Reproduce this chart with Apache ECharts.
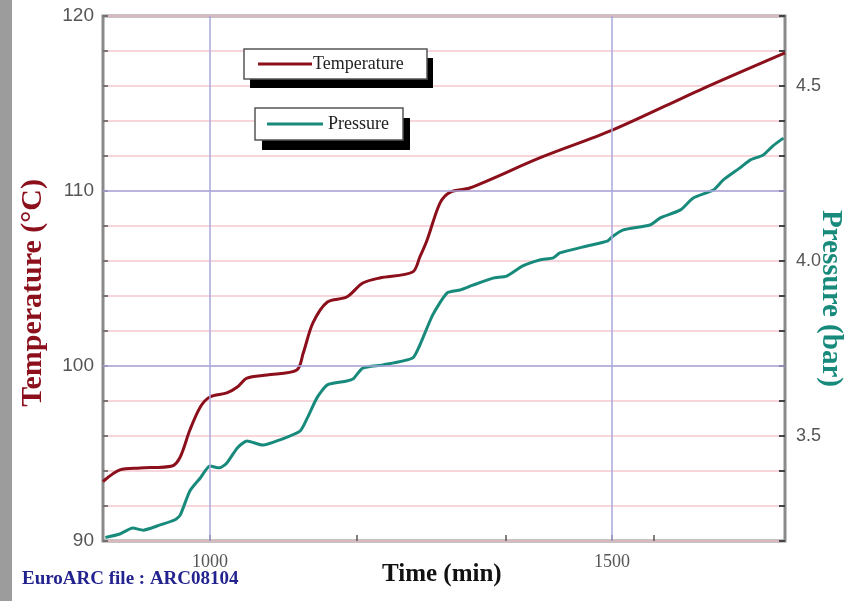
<!DOCTYPE html>
<html>
<head>
<meta charset="utf-8">
<script src="https://cdn.jsdelivr.net/npm/echarts@6/dist/echarts.min.js"></script>
<style>
  html, body { margin: 0; padding: 0; background: #fff; }
  #chart { width: 850px; height: 601px; }
</style>
</head>
<body>
<div id="chart"></div>
<script>
// time (min) / temperature (°C)
const tempTime = [867, 888, 913, 953, 963, 975, 988, 1000, 1021, 1034, 1046, 1071, 1108, 1116, 1128, 1146, 1170, 1190, 1211, 1252, 1261, 1270, 1286, 1299, 1323, 1410, 1501, 1609, 1715];
const tempVals = [93.4, 94.06, 94.17, 94.29, 94.8, 96.34, 97.66, 98.23, 98.46, 98.8, 99.31, 99.49, 99.77, 100.74, 102.46, 103.66, 103.94, 104.74, 105.03, 105.37, 106.23, 107.2, 109.31, 109.94, 110.17, 111.89, 113.49, 115.77, 117.89];

// time (min) / pressure (bar)
const presTime = [870, 888, 904, 917, 938, 956, 963, 975, 988, 1000, 1012, 1021, 1034, 1046, 1066, 1087, 1112, 1121, 1133, 1146, 1170, 1178, 1190, 1215, 1252, 1261, 1277, 1295, 1311, 1327, 1352, 1369, 1389, 1410, 1427, 1435, 1469, 1494, 1501, 1514, 1547, 1560, 1585, 1601, 1626, 1638, 1659, 1672, 1688, 1700, 1713];
const presVals = [3.21, 3.22, 3.237, 3.231, 3.246, 3.26, 3.274, 3.343, 3.38, 3.414, 3.409, 3.423, 3.466, 3.486, 3.474, 3.489, 3.514, 3.551, 3.609, 3.646, 3.657, 3.663, 3.694, 3.703, 3.723, 3.76, 3.846, 3.909, 3.917, 3.931, 3.951, 3.957, 3.986, 4.003, 4.009, 4.023, 4.043, 4.057, 4.071, 4.089, 4.103, 4.123, 4.146, 4.18, 4.203, 4.231, 4.266, 4.289, 4.303, 4.329, 4.351];

const xLabelValues = [1000, 1500];
const xTickValues = [1000, 1183, 1368, 1500, 1552];
const xMajorLines = [1000, 1500];
const yMajorLines = [100, 110];

const tempColor = '#8c0f1c';
const presColor = '#178a7c';

var chart = echarts.init(document.getElementById('chart'));

const pair = (xs, ys) => xs.map((x, i) => [x, ys[i]]);

// box with hard black drop shadow behind a legend
const legendBox = (x, y, w, h, dx, dy) => [
  { type: 'rect', z: 5, shape: { x: x + dx, y: y + dy, width: w, height: h }, style: { fill: '#000' } },
  { type: 'rect', z: 6, shape: { x: x, y: y, width: w, height: h }, style: { fill: '#fff', stroke: '#555', lineWidth: 1.5 } },
];

const option = {
  backgroundColor: '#fff',
  animation: false,
  grid: {
    left: 103,
    right: 65,
    top: 16,
    bottom: 60,
    show: true,
    borderColor: '#8a8a8a',
    borderWidth: 3,
  },
  legend: [
    {
      data: ['Temperature'],
      left: 258,
      top: 55,
      z: 10,
      padding: 0,
      itemWidth: 54,
      itemHeight: 3,
      icon: 'rect',
      textStyle: { fontFamily: 'Liberation Serif', fontSize: 18, color: '#222', padding: [0, 0, 0, -4] },
    },
    {
      data: ['Pressure'],
      left: 267,
      top: 115,
      z: 10,
      padding: 0,
      itemWidth: 56,
      itemHeight: 3,
      icon: 'rect',
      textStyle: { fontFamily: 'Liberation Serif', fontSize: 18, color: '#222' },
    },
  ],
  xAxis: {
    type: 'value',
    min: 867,
    max: 1715,
    axisLine: { show: false },
    axisTick: {
      show: true,
      inside: true,
      length: 6,
      customValues: xTickValues,
      lineStyle: { color: '#555', width: 1.5 },
    },
    axisLabel: {
      customValues: xLabelValues,
      margin: 12,
      fontFamily: 'Liberation Serif',
      fontSize: 18,
      color: '#555',
      formatter: (v) => String(v),
    },
    splitLine: { show: false },
  },
  yAxis: [
    {
      type: 'value',
      min: 90,
      max: 120,
      interval: 2,
      axisLine: { show: false },
      axisTick: { show: true, inside: true, length: 5, lineStyle: { color: '#555', width: 1.5 } },
      axisLabel: {
        margin: 9,
        fontFamily: 'Liberation Sans',
        fontSize: 19,
        color: '#555',
        formatter: (v) => (v % 10 === 0 ? String(v) : ''),
      },
      splitLine: { show: true, lineStyle: { color: '#f3c9ce', width: 1.5 } },
    },
    {
      type: 'value',
      min: 3.2,
      max: 4.7,
      interval: 0.1,
      position: 'right',
      axisLine: { show: false },
      axisTick: { show: true, inside: true, length: 6, lineStyle: { color: '#444', width: 2 } },
      axisLabel: {
        margin: 11,
        fontFamily: 'Liberation Sans',
        fontSize: 18,
        color: '#555',
        formatter: (v) => {
          const r = Math.round(v * 10);
          return r % 5 === 0 ? (r / 10).toFixed(1) : '';
        },
      },
      splitLine: { show: false },
    },
  ],
  graphic: [
    { type: 'rect', left: 0, top: 0, shape: { width: 12, height: 601 }, style: { fill: '#9c9c9c' } },
    ...legendBox(244, 49, 183, 30, 6, 9),
    ...legendBox(255, 108, 148, 32, 7, 10),
    {
      type: 'text',
      left: 18,
      top: 179,
      rotation: Math.PI / 2,
      style: { text: 'Temperature (°C)', fill: tempColor, font: 'bold 30px "Liberation Serif"' },
    },
    {
      type: 'text',
      left: 816,
      top: 210,
      rotation: -Math.PI / 2,
      style: { text: 'Pressure (bar)', fill: presColor, font: 'bold 29px "Liberation Serif"' },
    },
    {
      type: 'text',
      left: 382,
      top: 562,
      style: { text: 'Time (min)', fill: '#111', font: 'bold 25px "Liberation Serif"' },
    },
    {
      type: 'text',
      left: 22,
      top: 570,
      style: { text: 'EuroARC file : ARC08104', fill: '#23238f', font: 'bold 19px "Liberation Serif"' },
    },
  ],
  series: [
    {
      name: 'Temperature',
      type: 'line',
      yAxisIndex: 0,
      showSymbol: false,
      smooth: 0.3,
      lineStyle: { color: tempColor, width: 3 },
      itemStyle: { color: tempColor },
      data: pair(tempTime, tempVals),
      markLine: {
        silent: true,
        symbol: 'none',
        label: { show: false },
        lineStyle: { color: '#a9a9dc', width: 1.5, type: 'solid' },
        data: xMajorLines.map((v) => ({ xAxis: v })).concat(yMajorLines.map((v) => ({ yAxis: v }))),
      },
    },
    {
      name: 'Pressure',
      type: 'line',
      yAxisIndex: 1,
      showSymbol: false,
      smooth: 0.2,
      lineStyle: { color: presColor, width: 3 },
      itemStyle: { color: presColor },
      data: pair(presTime, presVals),
    },
  ],
};

chart.setOption(option);
</script>
</body>
</html>
